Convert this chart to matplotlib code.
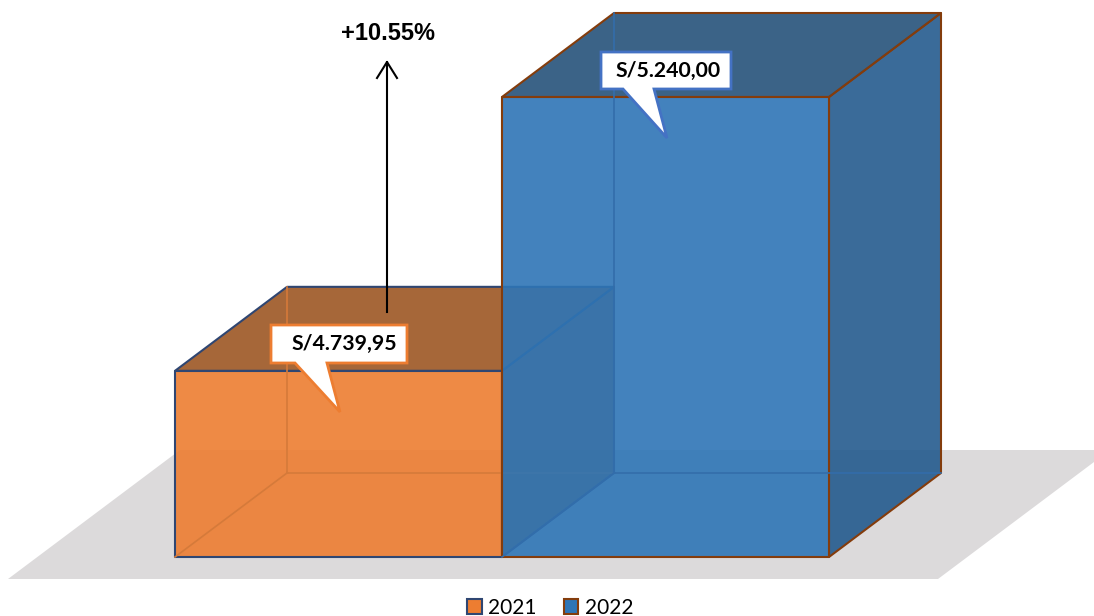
import matplotlib
matplotlib.use("agg")
import matplotlib.pyplot as plt
from matplotlib.colors import to_rgba
from matplotlib.patches import Patch, Polygon
from matplotlib.transforms import Affine2D

# chart values
years = ["2021", "2022"]
amounts = [4739.95, 5240.00]
axis_min = 4400

front_colors = ["#ED7D31", "#2E75B6"]
top_colors = ["#9C5623", "#25527A"]
side_colors = ["#9C5623", "#245B8E"]
edge_colors = ["#2F4672", "#843C0C"]
inner_colors = ["#D57A3A", "#336DAA"]
callout_colors = ["#ED7D31", "#4472C4"]

W, H = 1094, 616
BAR_PX = 327
VAL_PER_PX = 840 / 460
FACE_ALPHA = 0.9


def money(v):
    s = f"{v:,.2f}"
    return "S/" + s.replace(",", "#").replace(".", ",").replace("#", ".")


fig = plt.figure(figsize=(W / 100, H / 100), dpi=100)
ax = fig.add_axes([0, 0, 1, 1])
ax.set_xlim(-175 / BAR_PX, (W - 175) / BAR_PX)
y_low = axis_min - (H - 557) * VAL_PER_PX
ax.set_ylim(y_low, y_low + H * VAL_PER_PX)
ax.set_axis_off()

# depth of the box in data units
dx = 112 / BAR_PX
dy = 84 * VAL_PER_PX

# pixel coordinates (y down) for the things that are not data
px = Affine2D().scale(1, -1).translate(0, H)

# floor
ax.add_patch(Polygon([(8, 579), (938, 579), (1110, 450), (180, 450)],
                     transform=px, facecolor="#DCDADB", edgecolor="none", zorder=1))

for i, v in enumerate(amounts):
    x0, x1 = i, i + 1
    z = 2 + i
    edge = edge_colors[i]
    side = [(x1, axis_min), (x1 + dx, axis_min + dy), (x1 + dx, v + dy), (x1, v)]
    top = [(x0, v), (x0 + dx, v + dy), (x1 + dx, v + dy), (x1, v)]
    front = [(x0, axis_min), (x1, axis_min), (x1, v), (x0, v)]
    for pts, col in [(side, side_colors[i]), (top, top_colors[i]), (front, front_colors[i])]:
        ax.add_patch(Polygon(pts, facecolor=to_rgba(col, FACE_ALPHA), edgecolor=edge,
                             linewidth=1.5, joinstyle="round", zorder=z))
    # back edges showing through
    ax.plot([x0 + dx, x0 + dx], [axis_min + dy, v + dy], color=inner_colors[i], lw=1.2, zorder=z)
    ax.plot([x0 + dx, x1 + dx], [axis_min + dy, axis_min + dy], color=inner_colors[i], lw=1.2, zorder=z)
    ax.plot([x0, x0 + dx], [axis_min, axis_min + dy], color=inner_colors[i], lw=1.2, zorder=z)

# arrow and growth label
ax.plot([387, 387], [312, 62], color="black", lw=1.5, transform=px, zorder=6)
ax.plot([377, 387, 397], [78, 62, 78], color="black", lw=1.5, transform=px, zorder=6)
growth = (amounts[1] / amounts[0] - 1) * 100
ax.text(388, 33, f"+{growth:.2f}%", transform=px, ha="center", va="center",
        fontsize=17, fontweight="bold", family="Liberation Sans", zorder=6)

# callouts
boxes = [(271, 407, 325, 363, 295, 327, 340, 412), (601, 731, 52, 89, 623, 654, 667, 138)]
text_x = [344, 668]
for i, v in enumerate(amounts):
    l, r, t, b, b0, b1, tx, ty = boxes[i]
    ax.add_patch(Polygon([(l, t), (r, t), (r, b), (b1, b), (tx, ty), (b0, b), (l, b)],
                         transform=px, facecolor="white", edgecolor=callout_colors[i],
                         linewidth=2, zorder=7))
    ax.text(text_x[i], (t + b) / 2, money(v), transform=px, ha="center", va="center",
            fontsize=15.3, fontweight="bold", family="Lato", zorder=8)

# legend
handles = [Patch(facecolor=front_colors[i], edgecolor=edge_colors[i], linewidth=1.5, label=years[i])
           for i in range(2)]
ax.legend(handles=handles, ncol=2, loc="lower center", bbox_to_anchor=(0.503, -0.003), frameon=False,
          prop={"family": "Lato", "size": 15}, handlelength=0.7, handleheight=0.7,
          handletextpad=0.3, columnspacing=1.3, borderpad=0, borderaxespad=0)

fig.savefig("out.png", dpi=100)
